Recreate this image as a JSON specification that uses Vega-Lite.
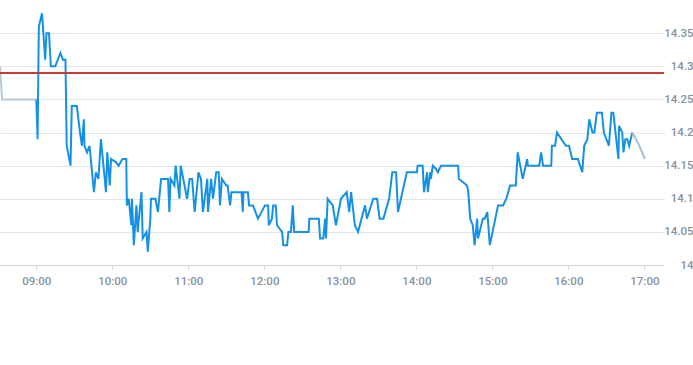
{
  "$schema": "https://vega.github.io/schema/vega-lite/v6.json",
  "width": 664,
  "height": 265,
  "autosize": {"type": "none"},
  "padding": {"left": 0, "top": 0, "right": 29, "bottom": 100},
  "background": "white",
  "config": {
    "view": {"stroke": null},
    "font": "Roboto",
    "axis": {"labelFont": "Roboto", "labelFontSize": 11.5, "labelColor": "#86929f", "labelFontWeight": 500}
  },
  "data": {
    "values": [
      {"t": "2024-01-02T08:31:20", "v": 14.30, "s": "pre"},
      {"t": "2024-01-02T08:33:00", "v": 14.25, "s": "pre"},
      {"t": "2024-01-02T09:00:00", "v": 14.25, "s": "pre"},
      {"t": "2024-01-02T09:00:00", "v": 14.25, "s": "main"},
      {"t": "2024-01-02T09:01:00", "v": 14.19, "s": "main"},
      {"t": "2024-01-02T09:02:00", "v": 14.36, "s": "main"},
      {"t": "2024-01-02T09:04:30", "v": 14.38, "s": "main"},
      {"t": "2024-01-02T09:07:00", "v": 14.31, "s": "main"},
      {"t": "2024-01-02T09:08:00", "v": 14.35, "s": "main"},
      {"t": "2024-01-02T09:10:00", "v": 14.35, "s": "main"},
      {"t": "2024-01-02T09:11:30", "v": 14.30, "s": "main"},
      {"t": "2024-01-02T09:15:00", "v": 14.30, "s": "main"},
      {"t": "2024-01-02T09:19:00", "v": 14.32, "s": "main"},
      {"t": "2024-01-02T09:21:00", "v": 14.31, "s": "main"},
      {"t": "2024-01-02T09:23:00", "v": 14.31, "s": "main"},
      {"t": "2024-01-02T09:24:00", "v": 14.18, "s": "main"},
      {"t": "2024-01-02T09:27:00", "v": 14.15, "s": "main"},
      {"t": "2024-01-02T09:28:00", "v": 14.24, "s": "main"},
      {"t": "2024-01-02T09:32:00", "v": 14.24, "s": "main"},
      {"t": "2024-01-02T09:34:30", "v": 14.20, "s": "main"},
      {"t": "2024-01-02T09:36:00", "v": 14.18, "s": "main"},
      {"t": "2024-01-02T09:37:30", "v": 14.22, "s": "main"},
      {"t": "2024-01-02T09:38:00", "v": 14.18, "s": "main"},
      {"t": "2024-01-02T09:40:00", "v": 14.17, "s": "main"},
      {"t": "2024-01-02T09:42:00", "v": 14.18, "s": "main"},
      {"t": "2024-01-02T09:45:30", "v": 14.11, "s": "main"},
      {"t": "2024-01-02T09:47:00", "v": 14.14, "s": "main"},
      {"t": "2024-01-02T09:49:00", "v": 14.13, "s": "main"},
      {"t": "2024-01-02T09:51:00", "v": 14.19, "s": "main"},
      {"t": "2024-01-02T09:53:30", "v": 14.14, "s": "main"},
      {"t": "2024-01-02T09:55:00", "v": 14.11, "s": "main"},
      {"t": "2024-01-02T09:56:00", "v": 14.17, "s": "main"},
      {"t": "2024-01-02T09:58:00", "v": 14.12, "s": "main"},
      {"t": "2024-01-02T09:59:00", "v": 14.16, "s": "main"},
      {"t": "2024-01-02T10:03:00", "v": 14.155, "s": "main"},
      {"t": "2024-01-02T10:05:00", "v": 14.15, "s": "main"},
      {"t": "2024-01-02T10:08:00", "v": 14.16, "s": "main"},
      {"t": "2024-01-02T10:11:00", "v": 14.16, "s": "main"},
      {"t": "2024-01-02T10:11:30", "v": 14.09, "s": "main"},
      {"t": "2024-01-02T10:13:00", "v": 14.10, "s": "main"},
      {"t": "2024-01-02T10:15:00", "v": 14.06, "s": "main"},
      {"t": "2024-01-02T10:15:30", "v": 14.10, "s": "main"},
      {"t": "2024-01-02T10:17:00", "v": 14.03, "s": "main"},
      {"t": "2024-01-02T10:19:00", "v": 14.09, "s": "main"},
      {"t": "2024-01-02T10:20:00", "v": 14.05, "s": "main"},
      {"t": "2024-01-02T10:23:00", "v": 14.11, "s": "main"},
      {"t": "2024-01-02T10:24:00", "v": 14.04, "s": "main"},
      {"t": "2024-01-02T10:27:00", "v": 14.05, "s": "main"},
      {"t": "2024-01-02T10:28:00", "v": 14.02, "s": "main"},
      {"t": "2024-01-02T10:30:00", "v": 14.07, "s": "main"},
      {"t": "2024-01-02T10:30:30", "v": 14.10, "s": "main"},
      {"t": "2024-01-02T10:34:00", "v": 14.10, "s": "main"},
      {"t": "2024-01-02T10:36:00", "v": 14.08, "s": "main"},
      {"t": "2024-01-02T10:38:30", "v": 14.13, "s": "main"},
      {"t": "2024-01-02T10:44:00", "v": 14.13, "s": "main"},
      {"t": "2024-01-02T10:45:00", "v": 14.08, "s": "main"},
      {"t": "2024-01-02T10:46:00", "v": 14.13, "s": "main"},
      {"t": "2024-01-02T10:49:00", "v": 14.12, "s": "main"},
      {"t": "2024-01-02T10:50:00", "v": 14.15, "s": "main"},
      {"t": "2024-01-02T10:53:00", "v": 14.10, "s": "main"},
      {"t": "2024-01-02T10:54:00", "v": 14.15, "s": "main"},
      {"t": "2024-01-02T10:59:00", "v": 14.10, "s": "main"},
      {"t": "2024-01-02T11:01:00", "v": 14.13, "s": "main"},
      {"t": "2024-01-02T11:03:00", "v": 14.13, "s": "main"},
      {"t": "2024-01-02T11:05:00", "v": 14.08, "s": "main"},
      {"t": "2024-01-02T11:08:00", "v": 14.14, "s": "main"},
      {"t": "2024-01-02T11:10:00", "v": 14.13, "s": "main"},
      {"t": "2024-01-02T11:11:30", "v": 14.08, "s": "main"},
      {"t": "2024-01-02T11:15:00", "v": 14.13, "s": "main"},
      {"t": "2024-01-02T11:15:30", "v": 14.08, "s": "main"},
      {"t": "2024-01-02T11:18:00", "v": 14.13, "s": "main"},
      {"t": "2024-01-02T11:19:30", "v": 14.10, "s": "main"},
      {"t": "2024-01-02T11:22:00", "v": 14.14, "s": "main"},
      {"t": "2024-01-02T11:24:00", "v": 14.14, "s": "main"},
      {"t": "2024-01-02T11:25:00", "v": 14.09, "s": "main"},
      {"t": "2024-01-02T11:26:30", "v": 14.13, "s": "main"},
      {"t": "2024-01-02T11:30:00", "v": 14.12, "s": "main"},
      {"t": "2024-01-02T11:31:00", "v": 14.12, "s": "main"},
      {"t": "2024-01-02T11:33:00", "v": 14.09, "s": "main"},
      {"t": "2024-01-02T11:34:00", "v": 14.11, "s": "main"},
      {"t": "2024-01-02T11:42:00", "v": 14.11, "s": "main"},
      {"t": "2024-01-02T11:43:00", "v": 14.08, "s": "main"},
      {"t": "2024-01-02T11:43:30", "v": 14.11, "s": "main"},
      {"t": "2024-01-02T11:47:00", "v": 14.11, "s": "main"},
      {"t": "2024-01-02T11:48:00", "v": 14.09, "s": "main"},
      {"t": "2024-01-02T11:51:00", "v": 14.09, "s": "main"},
      {"t": "2024-01-02T11:55:00", "v": 14.07, "s": "main"},
      {"t": "2024-01-02T12:00:30", "v": 14.09, "s": "main"},
      {"t": "2024-01-02T12:03:00", "v": 14.09, "s": "main"},
      {"t": "2024-01-02T12:03:30", "v": 14.06, "s": "main"},
      {"t": "2024-01-02T12:06:00", "v": 14.07, "s": "main"},
      {"t": "2024-01-02T12:07:00", "v": 14.09, "s": "main"},
      {"t": "2024-01-02T12:09:00", "v": 14.09, "s": "main"},
      {"t": "2024-01-02T12:10:00", "v": 14.06, "s": "main"},
      {"t": "2024-01-02T12:14:00", "v": 14.05, "s": "main"},
      {"t": "2024-01-02T12:15:00", "v": 14.03, "s": "main"},
      {"t": "2024-01-02T12:18:00", "v": 14.03, "s": "main"},
      {"t": "2024-01-02T12:19:00", "v": 14.05, "s": "main"},
      {"t": "2024-01-02T12:21:00", "v": 14.05, "s": "main"},
      {"t": "2024-01-02T12:22:30", "v": 14.09, "s": "main"},
      {"t": "2024-01-02T12:23:30", "v": 14.05, "s": "main"},
      {"t": "2024-01-02T12:35:00", "v": 14.05, "s": "main"},
      {"t": "2024-01-02T12:35:30", "v": 14.07, "s": "main"},
      {"t": "2024-01-02T12:43:00", "v": 14.07, "s": "main"},
      {"t": "2024-01-02T12:44:00", "v": 14.04, "s": "main"},
      {"t": "2024-01-02T12:46:30", "v": 14.04, "s": "main"},
      {"t": "2024-01-02T12:48:00", "v": 14.07, "s": "main"},
      {"t": "2024-01-02T12:48:40", "v": 14.04, "s": "main"},
      {"t": "2024-01-02T12:50:00", "v": 14.10, "s": "main"},
      {"t": "2024-01-02T12:54:00", "v": 14.09, "s": "main"},
      {"t": "2024-01-02T12:56:30", "v": 14.06, "s": "main"},
      {"t": "2024-01-02T13:00:30", "v": 14.10, "s": "main"},
      {"t": "2024-01-02T13:05:00", "v": 14.11, "s": "main"},
      {"t": "2024-01-02T13:07:00", "v": 14.08, "s": "main"},
      {"t": "2024-01-02T13:08:30", "v": 14.11, "s": "main"},
      {"t": "2024-01-02T13:11:30", "v": 14.06, "s": "main"},
      {"t": "2024-01-02T13:14:00", "v": 14.05, "s": "main"},
      {"t": "2024-01-02T13:19:30", "v": 14.09, "s": "main"},
      {"t": "2024-01-02T13:21:00", "v": 14.07, "s": "main"},
      {"t": "2024-01-02T13:26:00", "v": 14.10, "s": "main"},
      {"t": "2024-01-02T13:29:00", "v": 14.10, "s": "main"},
      {"t": "2024-01-02T13:31:00", "v": 14.07, "s": "main"},
      {"t": "2024-01-02T13:34:00", "v": 14.07, "s": "main"},
      {"t": "2024-01-02T13:37:00", "v": 14.09, "s": "main"},
      {"t": "2024-01-02T13:38:30", "v": 14.10, "s": "main"},
      {"t": "2024-01-02T13:41:00", "v": 14.14, "s": "main"},
      {"t": "2024-01-02T13:44:00", "v": 14.14, "s": "main"},
      {"t": "2024-01-02T13:45:30", "v": 14.08, "s": "main"},
      {"t": "2024-01-02T13:52:30", "v": 14.14, "s": "main"},
      {"t": "2024-01-02T14:00:30", "v": 14.14, "s": "main"},
      {"t": "2024-01-02T14:01:00", "v": 14.15, "s": "main"},
      {"t": "2024-01-02T14:05:00", "v": 14.15, "s": "main"},
      {"t": "2024-01-02T14:06:00", "v": 14.11, "s": "main"},
      {"t": "2024-01-02T14:08:30", "v": 14.14, "s": "main"},
      {"t": "2024-01-02T14:09:00", "v": 14.11, "s": "main"},
      {"t": "2024-01-02T14:11:00", "v": 14.14, "s": "main"},
      {"t": "2024-01-02T14:11:30", "v": 14.13, "s": "main"},
      {"t": "2024-01-02T14:13:00", "v": 14.15, "s": "main"},
      {"t": "2024-01-02T14:15:30", "v": 14.145, "s": "main"},
      {"t": "2024-01-02T14:17:00", "v": 14.14, "s": "main"},
      {"t": "2024-01-02T14:19:30", "v": 14.15, "s": "main"},
      {"t": "2024-01-02T14:33:00", "v": 14.15, "s": "main"},
      {"t": "2024-01-02T14:33:30", "v": 14.13, "s": "main"},
      {"t": "2024-01-02T14:40:00", "v": 14.12, "s": "main"},
      {"t": "2024-01-02T14:41:00", "v": 14.11, "s": "main"},
      {"t": "2024-01-02T14:42:30", "v": 14.07, "s": "main"},
      {"t": "2024-01-02T14:44:30", "v": 14.06, "s": "main"},
      {"t": "2024-01-02T14:46:00", "v": 14.03, "s": "main"},
      {"t": "2024-01-02T14:48:00", "v": 14.07, "s": "main"},
      {"t": "2024-01-02T14:48:40", "v": 14.04, "s": "main"},
      {"t": "2024-01-02T14:52:30", "v": 14.07, "s": "main"},
      {"t": "2024-01-02T14:54:00", "v": 14.07, "s": "main"},
      {"t": "2024-01-02T14:56:00", "v": 14.08, "s": "main"},
      {"t": "2024-01-02T14:58:00", "v": 14.03, "s": "main"},
      {"t": "2024-01-02T15:04:30", "v": 14.09, "s": "main"},
      {"t": "2024-01-02T15:08:30", "v": 14.09, "s": "main"},
      {"t": "2024-01-02T15:11:00", "v": 14.10, "s": "main"},
      {"t": "2024-01-02T15:14:00", "v": 14.12, "s": "main"},
      {"t": "2024-01-02T15:18:30", "v": 14.12, "s": "main"},
      {"t": "2024-01-02T15:20:00", "v": 14.17, "s": "main"},
      {"t": "2024-01-02T15:24:00", "v": 14.13, "s": "main"},
      {"t": "2024-01-02T15:27:30", "v": 14.16, "s": "main"},
      {"t": "2024-01-02T15:28:00", "v": 14.15, "s": "main"},
      {"t": "2024-01-02T15:37:00", "v": 14.15, "s": "main"},
      {"t": "2024-01-02T15:38:30", "v": 14.17, "s": "main"},
      {"t": "2024-01-02T15:40:00", "v": 14.15, "s": "main"},
      {"t": "2024-01-02T15:46:30", "v": 14.15, "s": "main"},
      {"t": "2024-01-02T15:47:00", "v": 14.18, "s": "main"},
      {"t": "2024-01-02T15:49:30", "v": 14.18, "s": "main"},
      {"t": "2024-01-02T15:51:00", "v": 14.20, "s": "main"},
      {"t": "2024-01-02T15:58:00", "v": 14.18, "s": "main"},
      {"t": "2024-01-02T16:00:30", "v": 14.18, "s": "main"},
      {"t": "2024-01-02T16:03:00", "v": 14.16, "s": "main"},
      {"t": "2024-01-02T16:07:30", "v": 14.16, "s": "main"},
      {"t": "2024-01-02T16:11:00", "v": 14.14, "s": "main"},
      {"t": "2024-01-02T16:12:30", "v": 14.18, "s": "main"},
      {"t": "2024-01-02T16:15:00", "v": 14.19, "s": "main"},
      {"t": "2024-01-02T16:16:30", "v": 14.22, "s": "main"},
      {"t": "2024-01-02T16:19:00", "v": 14.20, "s": "main"},
      {"t": "2024-01-02T16:20:30", "v": 14.20, "s": "main"},
      {"t": "2024-01-02T16:22:30", "v": 14.23, "s": "main"},
      {"t": "2024-01-02T16:26:30", "v": 14.23, "s": "main"},
      {"t": "2024-01-02T16:28:00", "v": 14.20, "s": "main"},
      {"t": "2024-01-02T16:32:00", "v": 14.18, "s": "main"},
      {"t": "2024-01-02T16:34:00", "v": 14.23, "s": "main"},
      {"t": "2024-01-02T16:35:30", "v": 14.23, "s": "main"},
      {"t": "2024-01-02T16:39:30", "v": 14.16, "s": "main"},
      {"t": "2024-01-02T16:40:00", "v": 14.21, "s": "main"},
      {"t": "2024-01-02T16:42:30", "v": 14.20, "s": "main"},
      {"t": "2024-01-02T16:43:30", "v": 14.17, "s": "main"},
      {"t": "2024-01-02T16:45:00", "v": 14.19, "s": "main"},
      {"t": "2024-01-02T16:46:30", "v": 14.19, "s": "main"},
      {"t": "2024-01-02T16:48:00", "v": 14.18, "s": "main"},
      {"t": "2024-01-02T16:50:30", "v": 14.20, "s": "main"},
      {"t": "2024-01-02T16:50:30", "v": 14.20, "s": "post"},
      {"t": "2024-01-02T16:56:00", "v": 14.18, "s": "post"},
      {"t": "2024-01-02T17:00:30", "v": 14.16, "s": "post"}
    ]
  },
  "layer": [
    {
      "mark": {"type": "line", "strokeWidth": 2},
      "encoding": {
        "x": {
          "field": "t", "type": "temporal",
          "scale": {"domain": [
            {"year": 2024, "month": 1, "date": 2, "hours": 8, "minutes": 31, "seconds": 20},
            {"year": 2024, "month": 1, "date": 2, "hours": 17, "minutes": 15, "seconds": 30}
          ]},
          "axis": {
            "title": null, "format": "%H:%M", "tickCount": 20,
            "values": [
              {"year": 2024, "month": 1, "date": 2, "hours": 9},
              {"year": 2024, "month": 1, "date": 2, "hours": 10},
              {"year": 2024, "month": 1, "date": 2, "hours": 11},
              {"year": 2024, "month": 1, "date": 2, "hours": 12},
              {"year": 2024, "month": 1, "date": 2, "hours": 13},
              {"year": 2024, "month": 1, "date": 2, "hours": 14},
              {"year": 2024, "month": 1, "date": 2, "hours": 15},
              {"year": 2024, "month": 1, "date": 2, "hours": 16},
              {"year": 2024, "month": 1, "date": 2, "hours": 17}
            ],
            "grid": false, "domainColor": "#cfd4d9", "tickColor": "#cfd4d9", "tickSize": 4,
            "labelPadding": 6
          }
        },
        "y": {
          "field": "v", "type": "quantitative",
          "scale": {"domain": [14, 14.4], "nice": false, "zero": false},
          "axis": {
            "orient": "right", "title": null, "tickCount": 12,
            "values": [14, 14.05, 14.1, 14.15, 14.2, 14.25, 14.3, 14.35],
            "format": ".2~f", "domain": false, "ticks": false, "gridColor": "#e3e6e9",
            "labelAlign": "right", "labelPadding": 29, "labelBaseline": "middle", "labelOverlap": false
          }
        },
        "color": {
          "field": "s", "type": "nominal", "legend": null,
          "scale": {"domain": ["pre", "main", "post"], "range": ["#b9c9d6", "#1591e4", "#a9bfd0"]}
        }
      }
    },
    {
      "mark": {"type": "rule", "color": "#cc3b36", "strokeWidth": 1},
      "encoding": {"y": {"datum": 14.29}}
    }
  ]
}
